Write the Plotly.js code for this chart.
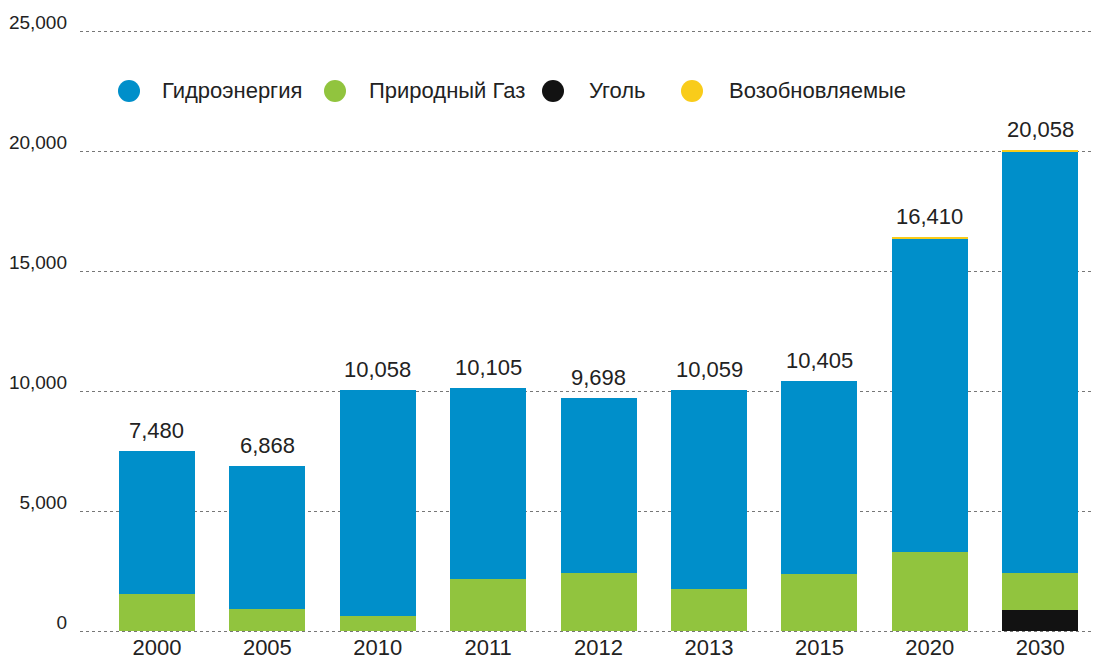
<!DOCTYPE html>
<html>
<head>
<meta charset="utf-8">
<script src="https://cdn.plot.ly/plotly-3.0.1.min.js"></script>
<style>html,body{margin:0;padding:0;background:#fff;}#chart{width:1094px;height:660px;}</style>
</head>
<body>
<div id="chart"></div>
<script>
const years = ["2000","2005","2010","2011","2012","2013","2015","2020","2030"];
const coal = [0,0,0,0,0,0,0,0,860];
const gas = [1540,900,610,2150,2400,1740,2360,3280,1540];
const hydro = [5940,5968,9448,7955,7298,8319,8045,13050,17568];
const renew = [0,0,0,0,0,0,0,80,90];
const totals = [7480,6868,10058,10105,9698,10059,10405,16410,20058];
const seriesNames = ["Гидроэнергия","Природный Газ","Уголь","Возобновляемые"];
const yTicks = [0,5000,10000,15000,20000,25000];

const cBlue = "#008fca", cGreen = "#91c43e", cBlack = "#121212", cYellow = "#f9cc1a";
const font = "Liberation Sans, Arial, Helvetica, sans-serif";

function bar(y, color, name){
  return {type:"bar", x:years, y:y, name:name, marker:{color:color, line:{width:0}}, showlegend:false, hoverinfo:"x+y+name"};
}
const data = [
  bar(coal, cBlack, seriesNames[2]),
  bar(gas, cGreen, seriesNames[1]),
  bar(hydro, cBlue, seriesNames[0]),
  bar(renew, cYellow, seriesNames[3])
];

const annotations = years.map((yr,i)=>({
  x: i, y: totals[i], xref:"x", yref:"y", text: totals[i].toLocaleString("en-US"),
  showarrow:false, yanchor:"bottom", yshift:6, font:{family:font, size:22, color:"#222"}
}));

// custom legend (circles + labels)
const legColors = [cBlue, cGreen, cBlack, cYellow];
const legCx = [129, 335, 553, 692];
const legTx = [160, 367, 587, 727];
const W = 1094, H = 660, ML = 80, MT = 28, MB = 26;
const PH = H - MT - MB, PW = W - ML;
const legY = 91;
const shapes = [];
legColors.forEach((c,i)=>{
  shapes.push({type:"circle", xref:"paper", yref:"paper",
    x0:(legCx[i]-11-ML)/PW, x1:(legCx[i]+11-ML)/PW,
    y0:(H-MB-legY-11)/PH, y1:(H-MB-legY+11)/PH,
    fillcolor:c, line:{width:0}, layer:"above"});
  annotations.push({xref:"paper", yref:"paper", x:(legTx[i]-ML)/PW, y:(H-MB-legY)/PH,
    xanchor:"left", yanchor:"middle", text:seriesNames[i], showarrow:false,
    font:{family:font, size:22, color:"#222"}});
});

const layout = {
  width:W, height:H,
  margin:{l:ML, r:0, t:MT, b:MB, pad:0},
  paper_bgcolor:"#fff", plot_bgcolor:"#fff",
  barmode:"stack", bargap:0.312,
  showlegend:false,
  xaxis:{type:"category", range:[-0.697, 8.487], showgrid:false, zeroline:false, showline:false,
    ticks:"", ticklabelstandoff:-2, tickfont:{family:font, size:22, color:"#222"}, fixedrange:true},
  yaxis:{range:[-125,25125], tickvals:yTicks, tickformat:",d", showgrid:true, gridcolor:"#777", gridwidth:1,
    griddash:"dot", zeroline:false, showline:false, ticks:"",
    ticklabelshift:-9, ticklabelstandoff:12,
    tickfont:{family:font, size:19, color:"#222"}, fixedrange:true},
  annotations:annotations,
  shapes:shapes,
  font:{family:font}
};
Plotly.newPlot("chart", data, layout, {displayModeBar:false, staticPlot:true});
</script>
</body>
</html>
